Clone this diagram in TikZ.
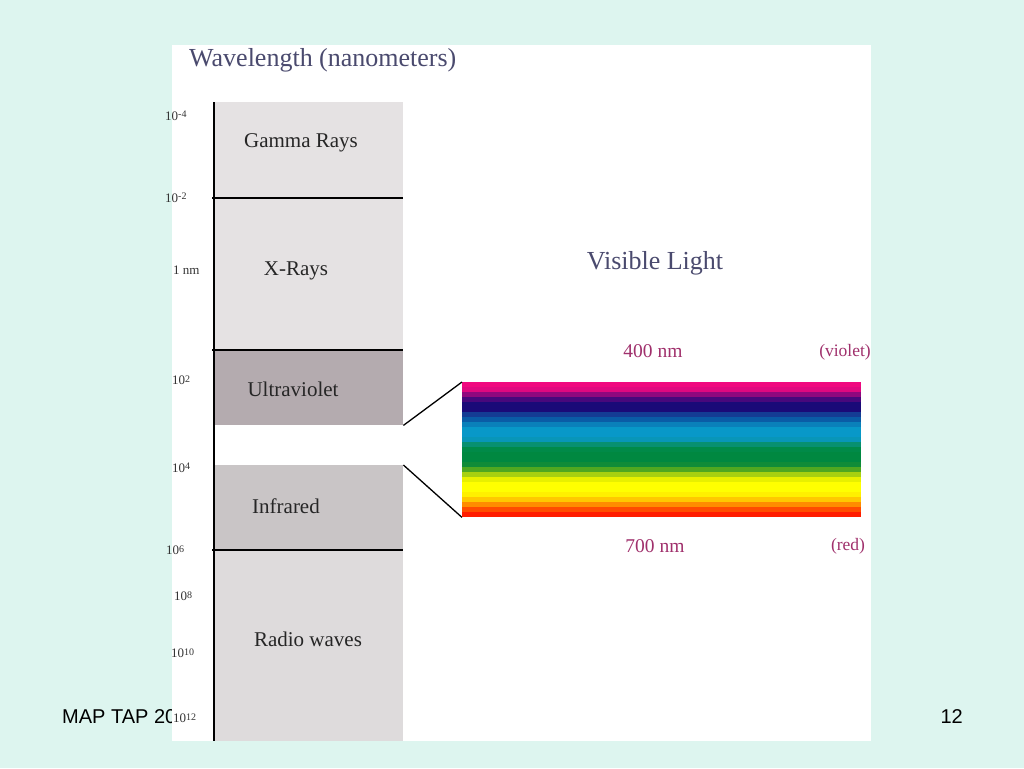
\documentclass[tikz,border=0pt]{standalone}
\usepackage{fontspec}
\setmainfont{Liberation Serif}
\newfontfamily\footfont{Liberation Sans}

\definecolor{slide}{RGB}{221,245,239}
\definecolor{titleblue}{HTML}{4A4A6E}
\definecolor{nmpink}{HTML}{A0306C}
\definecolor{lightband}{HTML}{E5E2E3}
\definecolor{uvband}{HTML}{B4ABAF}
\definecolor{irband}{HTML}{C9C5C6}
\newcommand{\pw}[1]{10\raisebox{2.5pt}{\fontsize{10}{10}\selectfont#1}}

\begin{document}
\begin{tikzpicture}[x=1pt,y=-1pt]
  \tikzstyle{every node}=[inner sep=0pt]
  \tikzstyle{band}=[anchor=north west,minimum width=189pt]
  \tikzstyle{tick}=[anchor=west,text=black!80,font=\fontsize{13}{14}\selectfont]
  \tikzstyle{bandname}=[text=black!85,font=\fontsize{21}{24}\selectfont]
  \tikzstyle{heading}=[text=titleblue,font=\fontsize{26}{30}\selectfont]
  \tikzstyle{nm}=[text=nmpink,font=\fontsize{19.5}{22}\selectfont]
  \tikzstyle{foot}=[text=black,font=\footfont\fontsize{20}{24}\selectfont]
  \fill[slide] (0,0) rectangle (1024,768);
  \node[foot,anchor=west] (mapTap) at (62,717) {MAP TAP 20};
  \node[foot,anchor=east] (page) at (963,717) {12};
  % white sheet
  \fill[white] (172,45) rectangle (871,741);
  \node[heading,anchor=west] (wavelength) at (189,60) {Wavelength (nanometers)};
  % the column of bands
  \node[band,fill=lightband,minimum height=96pt] (gamma) at (214,102) {};
  \node[band,fill=lightband,minimum height=152pt] (xray) at (214,198) {};
  \node[band,fill=uvband,minimum height=75pt] (uv) at (214,350) {};
  \node[band,fill=irband,minimum height=85pt] (ir) at (214,465) {};
  \node[band,fill=lightband!97!black,minimum height=191pt] (radio) at (214,550) {};
  \draw[line width=1.4pt] (gamma.north west) -- (radio.south west);
  \draw[line width=1.2pt] ([xshift=-2pt]xray.north west) -- (xray.north east);
  \draw[line width=1.2pt] ([xshift=-2pt]uv.north west) -- (uv.north east);
  \draw[line width=1.2pt] ([xshift=-2pt]radio.north west) -- (radio.north east);
  \node[bandname] (gammaText) at (301,143) {Gamma Rays};
  \node[bandname] (xrayText) at (296,271) {X-Rays};
  \node[bandname] (uvText) at (293,389) {Ultraviolet};
  \node[bandname] (irText) at (286,506) {Infrared};
  \node[bandname] (radioText) at (308,639) {Radio waves};
  % scale on the left
  \node[tick] (t1) at (165,116) {\pw{-4}};
  \node[tick] (t2) at (165,198) {\pw{-2}};
  \node[tick] (t3) at (173,270) {1 nm};
  \node[tick] (t4) at (172,380) {\pw{2}};
  \node[tick] (t5) at (172,468) {\pw{4}};
  \node[tick] (t6) at (166,550) {\pw{6}};
  \node[tick] (t7) at (174,596) {\pw{8}};
  \node[tick] (t8) at (171,653) {\pw{10}};
  \node[tick] (t9) at (173,718) {\pw{12}};
  % visible light
  \node[heading] (visible) at (655,263) {Visible Light};
  \node[anchor=north west,minimum width=399pt,minimum height=135pt] (spec) at (462,382) {};
  \foreach \c [count=\i] in {F0087F,E00880,90087E,48087C,1A0A78,1A0A78,143C94,0A5CA6,0A80BA,
      0898C8,0898C8,0896B8,089070,008A48,008840,008840,108C38,50A820,A8D010,
      E8F000,FFFF00,FFFF00,FFF000,FFC800,FF8C00,FF4C00,FF1C00}{
    \definecolor{stripe}{HTML}{\c}
    \fill[stripe] (462,{382+(\i-1)*5}) rectangle (861,{382+\i*5+0.4});
  }
  \draw[line width=1.3pt] (uv.south east) -- (spec.north west);
  \draw[line width=1.3pt] (ir.north east) -- (spec.south west);
  \node[nm] (violetNm) at (653,351) {400 nm};
  \node[nm,font=\fontsize{17.5}{20}\selectfont] (violetText) at (845,352) {(violet)};
  \node[nm] (redNm) at (655,546) {700 nm};
  \node[nm,font=\fontsize{17.5}{20}\selectfont] (redText) at (848,546) {(red)};
\end{tikzpicture}
\end{document}
